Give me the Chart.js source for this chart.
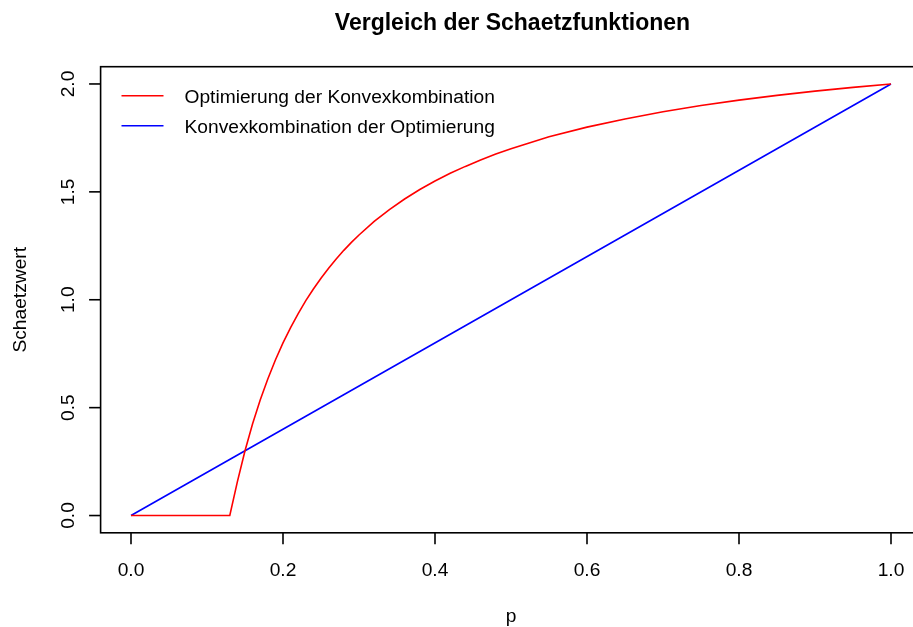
<!DOCTYPE html>
<html>
<head>
<meta charset="utf-8">
<script src="https://cdn.jsdelivr.net/npm/chart.js@4.4.1/dist/chart.umd.min.js"></script>
<style>
  html, body { margin: 0; padding: 0; background: #ffffff; overflow: hidden; }
  #wrap { width: 940px; height: 627px; }
</style>
</head>
<body>
<div id="wrap"><canvas id="c" width="940" height="627"></canvas></div>
<script>
// ---- data ----
const chartTitle = "Vergleich der Schaetzfunktionen";
const xTitle = "p";
const yTitle = "Schaetzwert";
const seriesNames = ["Optimierung der Konvexkombination", "Konvexkombination der Optimierung"];

const pRed = [0, 0.13, 0.14, 0.15, 0.16, 0.17, 0.18, 0.19, 0.20, 0.21, 0.22, 0.23, 0.24, 0.25,
              0.26, 0.27, 0.28, 0.29, 0.30, 0.32, 0.34, 0.36, 0.38, 0.40, 0.42, 0.44, 0.46,
              0.48, 0.50, 0.55, 0.60, 0.65, 0.70, 0.75, 0.80, 0.85, 0.90, 0.95, 1.00];
const redValues = [0, 0, 0.157, 0.300, 0.425, 0.535, 0.633, 0.721, 0.800, 0.871, 0.936, 0.996,
                   1.050, 1.100, 1.146, 1.189, 1.229, 1.266, 1.300, 1.363, 1.418, 1.467, 1.511,
                   1.550, 1.586, 1.618, 1.648, 1.675, 1.700, 1.755, 1.800, 1.838, 1.871, 1.900,
                   1.925, 1.947, 1.967, 1.984, 2.000];

const pBlue = [0, 0.5, 1.0];
const blueValues = [0, 1.0, 2.0];

const xTicks = [0, 0.2, 0.4, 0.6, 0.8, 1.0];
const xTickLabels = ["0.0", "0.2", "0.4", "0.6", "0.8", "1.0"];
const yTicks = [0, 0.5, 1.0, 1.5, 2.0];
const yTickLabels = ["0.0", "0.5", "1.0", "1.5", "2.0"];

// ---- styling ----
const FONT = '"Liberation Sans", Arial, Helvetica, sans-serif';
const FS = 19.2;
const LW = 1.6;

const rPlot = {
  id: 'rPlot',
  afterDraw(chart) {
    const ctx = chart.ctx;
    const xs = chart.scales.x, ys = chart.scales.y;
    const a = chart.chartArea;
    ctx.save();
    ctx.strokeStyle = '#000';
    ctx.fillStyle = '#000';
    ctx.lineWidth = LW;
    // box
    ctx.strokeRect(a.left, a.top, a.right - a.left, a.bottom - a.top);
    // x axis
    ctx.font = FS + 'px ' + FONT;
    ctx.textAlign = 'center';
    ctx.textBaseline = 'alphabetic';
    xTicks.forEach((v, i) => {
      const px = xs.getPixelForValue(v);
      ctx.beginPath();
      ctx.moveTo(px, a.bottom);
      ctx.lineTo(px, a.bottom + 11.5);
      ctx.stroke();
      ctx.fillText(xTickLabels[i], px, a.bottom + 42.9);
    });
    // y axis
    yTicks.forEach((v, i) => {
      const py = ys.getPixelForValue(v);
      ctx.beginPath();
      ctx.moveTo(a.left, py);
      ctx.lineTo(a.left - 11.5, py);
      ctx.stroke();
      ctx.save();
      ctx.translate(a.left - 26.6, py);
      ctx.rotate(-Math.PI / 2);
      ctx.fillText(yTickLabels[i], 0, 0);
      ctx.restore();
    });
    // axis titles
    const cx = (a.left + a.right) / 2;
    ctx.fillText(xTitle, cx, a.bottom + 88.8);
    ctx.save();
    ctx.translate(a.left - 74.5, (a.top + a.bottom) / 2);
    ctx.rotate(-Math.PI / 2);
    ctx.fillText(yTitle, 0, 0);
    ctx.restore();
    // main title
    ctx.font = 'bold 23px ' + FONT;
    ctx.fillText(chartTitle, cx + 1.5, 30);
    // legend
    ctx.font = FS + 'px ' + FONT;
    ctx.textAlign = 'left';
    const colors = chart.data.datasets.map(d => d.borderColor);
    const rowY = [95.7, 125.7];
    seriesNames.forEach((name, i) => {
      ctx.strokeStyle = colors[i];
      ctx.lineWidth = LW;
      ctx.beginPath();
      ctx.moveTo(121.5, rowY[i]);
      ctx.lineTo(163.5, rowY[i]);
      ctx.stroke();
      ctx.fillStyle = '#000';
      ctx.fillText(name, 184.5, rowY[i] + 6.9);
    });
    ctx.restore();
  }
};

new Chart(document.getElementById('c'), {
  type: 'scatter',
  data: {
    datasets: [
      {
        label: seriesNames[0],
        data: pRed.map((p, i) => ({ x: p, y: redValues[i] })),
        showLine: true,
        borderColor: '#FF0000',
        borderWidth: LW,
        pointRadius: 0,
        tension: 0,
        fill: false
      },
      {
        label: seriesNames[1],
        data: pBlue.map((p, i) => ({ x: p, y: blueValues[i] })),
        showLine: true,
        borderColor: '#0000FF',
        borderWidth: LW,
        pointRadius: 0,
        tension: 0,
        fill: false
      }
    ]
  },
  options: {
    responsive: false,
    animation: false,
    devicePixelRatio: 1,
    layout: { padding: { left: 100.6, right: 18.6, top: 66.7, bottom: 94.2 } },
    scales: {
      x: { type: 'linear', min: -0.04, max: 1.04, display: false },
      y: { type: 'linear', min: -0.08, max: 2.08, display: false }
    },
    plugins: {
      legend: { display: false },
      title: { display: false },
      tooltip: { enabled: false }
    }
  },
  plugins: [rPlot]
});
</script>
</body>
</html>
